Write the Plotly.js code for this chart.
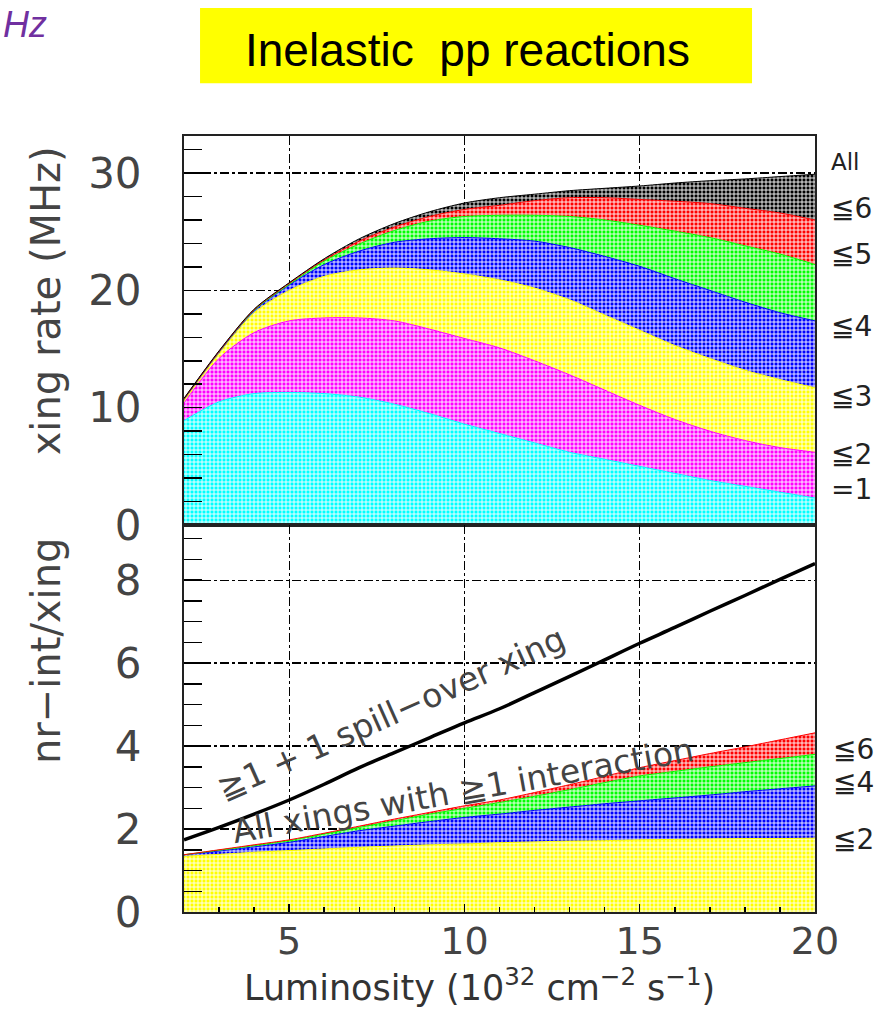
<!DOCTYPE html>
<html><head><meta charset="utf-8">
<script src="https://cdn.plot.ly/plotly-3.0.1.min.js"></script>
<style>html,body{margin:0;padding:0;background:#fff}#chart{width:896px;height:1009px}</style>
</head><body><div id="chart"></div>
<script>
// ---- data ----
const luminosity = [2,3,4,5,6,7,8,9,10,11,12,13,14,15,16,17,18,19,20];
// top panel: crossing rate (MHz), cumulative by number of interactions
const rateEq1 = [8.9,10.5,11.2,11.3,11.2,10.9,10.3,9.5,8.6,7.8,7.0,6.2,5.6,5.0,4.4,3.8,3.3,2.8,2.3];
const rateLe2 = [10.4,14.2,16.4,17.4,17.65,17.65,17.4,16.7,15.9,15.1,14.0,12.8,11.5,10.2,9.0,8.0,7.2,6.6,6.2];
const rateLe3 = [10.6,14.6,18.1,20.0,21.2,21.75,21.9,21.75,21.4,20.9,20.2,19.2,17.9,16.6,15.3,14.2,13.2,12.4,11.7];
const rateLe4 = [10.7,14.75,18.25,20.45,22.2,23.35,24.1,24.4,24.5,24.4,24.2,23.65,22.9,22.05,21.0,20.0,19.0,18.1,17.4];
const rateLe5 = [10.75,14.8,18.3,20.5,22.5,23.95,25.1,25.9,26.3,26.4,26.4,26.3,26.0,25.55,25.05,24.5,23.8,23.1,22.2];
const rateLe6 = [10.75,14.8,18.35,20.6,22.6,24.2,25.4,26.3,26.9,27.25,27.65,27.9,27.9,27.75,27.6,27.4,27.0,26.6,26.0];
const rateAll = [10.8,14.85,18.4,20.65,22.7,24.4,25.7,26.7,27.45,27.9,28.2,28.5,28.7,28.9,29.15,29.35,29.5,29.7,29.9];
// bottom panel: nr-int / xing
const nIntLe2 = [1.34,1.39,1.44,1.48,1.52,1.56,1.59,1.62,1.64,1.67,1.69,1.71,1.72,1.74,1.75,1.76,1.77,1.77,1.78];
const nIntLe4 = [1.38,1.47,1.57,1.68,1.82,1.96,2.07,2.18,2.28,2.36,2.45,2.53,2.61,2.68,2.75,2.82,2.9,2.97,3.04];
const nIntLe6 = [1.38,1.49,1.60,1.72,1.88,2.04,2.2,2.36,2.5,2.64,2.79,2.95,3.12,3.28,3.39,3.5,3.6,3.7,3.8];
const nIntAll = [1.38,1.5,1.62,1.74,1.9,2.07,2.24,2.4,2.56,2.70,2.88,3.07,3.27,3.48,3.65,3.82,3.98,4.15,4.32];
const nIntSpill = [1.74,2.04,2.36,2.70,3.08,3.48,3.84,4.2,4.56,4.9,5.29,5.68,6.08,6.48,6.86,7.25,7.63,8.02,8.4];
// labels
const topLabels = ['All','≦6','≦5','≦4','≦3','≦2','=1'];
const bottomLabels = ['≦6','≦4','≦2'];
const titleText = 'Inelastic  pp reactions';
const yTitleTop = 'xing rate (MHz)';
const yTitleBottom = 'nr−int/xing';
const xTitle = 'Luminosity (10<sup>32</sup> cm<sup>−2</sup> s<sup>−1</sup>)';
const noteSpill = '≧1 + 1 spill−over xing';
const noteAll = 'All xings with ≧1 interaction';

// ---- styling / layout ----
const FONT = 'DejaVu Sans, Liberation Sans, sans-serif';
const TXT = '#444';
function band(y, color, fill, xa, ya) {
  return {
    x: luminosity, y: y, xaxis: xa, yaxis: ya, type: 'scatter', mode: 'lines',
    line: {color: color, width: 1, shape: 'spline', smoothing: 0.8},
    fill: fill, fillcolor: color,
    fillpattern: {shape: '+', size: 4, solidity: 0.4, fgcolor: '#ffffff', bgcolor: color, fgopacity: 1},
    hoverinfo: 'skip'
  };
}
const data = [
  band(rateEq1, '#00ffff', 'tozeroy', 'x', 'y'),
  band(rateLe2, '#ff00ff', 'tonexty', 'x', 'y'),
  band(rateLe3, '#ffff00', 'tonexty', 'x', 'y'),
  band(rateLe4, '#0000ff', 'tonexty', 'x', 'y'),
  band(rateLe5, '#00ff00', 'tonexty', 'x', 'y'),
  band(rateLe6, '#ff0000', 'tonexty', 'x', 'y'),
  band(rateAll, '#000000', 'tonexty', 'x', 'y'),
  band(nIntLe2, '#ffff00', 'tozeroy', 'x2', 'y2'),
  band(nIntLe4, '#0000ff', 'tonexty', 'x2', 'y2'),
  band(nIntLe6, '#00ff00', 'tonexty', 'x2', 'y2'),
  band(nIntAll, '#ff0000', 'tonexty', 'x2', 'y2'),
  {x: luminosity, y: nIntSpill, xaxis: 'x2', yaxis: 'y2', type: 'scatter', mode: 'lines',
   line: {color: '#000', width: 3.5, shape: 'spline'}, hoverinfo: 'skip'}
];

const gridCommon = {showgrid: true, gridcolor: '#000', griddash: 'dashdot', gridwidth: 1.3,
  showline: true, linecolor: '#222', linewidth: 2, mirror: true, zeroline: false};
const tickFont = {family: FONT, size: 42, color: TXT};

const topLabelY = [0.9665, 0.907, 0.847, 0.754, 0.664, 0.589, 0.544];
const bottomLabelY = [0.209, 0.1675, 0.0928];
const annotations = [];
topLabels.forEach((t, i) => annotations.push({xref: 'paper', yref: 'paper', x: 1.022, y: topLabelY[i],
  xanchor: 'left', yanchor: 'middle', text: t, showarrow: false,
  font: {family: FONT, size: t === 'All' ? 23 : 28, color: '#222'}}));
bottomLabels.forEach((t, i) => annotations.push({xref: 'paper', yref: 'paper', x: 1.026, y: bottomLabelY[i],
  xanchor: 'left', yanchor: 'middle', text: t, showarrow: false,
  font: {family: FONT, size: 28, color: '#222'}}));
annotations.push(
  {xref: 'paper', yref: 'paper', x: 0.4485, y: 1.111, text: titleText, showarrow: false,
   xanchor: 'center', yanchor: 'middle', font: {family: 'Liberation Sans, Arial, sans-serif', size: 46, color: '#000'}},
  {xref: 'paper', yref: 'paper', x: -0.2899, y: 1.144, text: '<i>Hz</i>', showarrow: false,
   xanchor: 'left', yanchor: 'middle', font: {family: 'Liberation Sans, Arial, sans-serif', size: 36, color: '#7030a0'}},
  {xref: 'paper', yref: 'paper', x: -0.219, y: 0.788, text: yTitleTop, textangle: -90, showarrow: false,
   xanchor: 'center', yanchor: 'middle', font: {family: FONT, size: 40, color: TXT}},
  {xref: 'paper', yref: 'paper', x: -0.219, y: 0.336, text: yTitleBottom, textangle: -90, showarrow: false,
   xanchor: 'center', yanchor: 'middle', font: {family: FONT, size: 40, color: TXT}},
  {xref: 'paper', yref: 'paper', x: 0.469, y: -0.094, text: xTitle, showarrow: false,
   xanchor: 'center', yanchor: 'middle', font: {family: FONT, size: 35, color: '#333'}},
  {xref: 'x2', yref: 'y2', x: 7.91, y: 4.78, text: noteSpill, textangle: -24.1, showarrow: false,
   xanchor: 'center', yanchor: 'middle', font: {family: FONT, size: 33, color: TXT}},
  {xref: 'x2', yref: 'y2', x: 9.96, y: 2.93, text: noteAll, textangle: -10.2, showarrow: false,
   xanchor: 'center', yanchor: 'middle', font: {family: FONT, size: 33, color: TXT}}
);

const layout = {
  width: 896, height: 1009,
  margin: {l: 184, r: 81, t: 136, b: 97},
  paper_bgcolor: '#fff', plot_bgcolor: '#fff', showlegend: false,
  xaxis: Object.assign({}, gridCommon, {domain: [0, 1], anchor: 'y', range: [2, 20], tick0: 0, dtick: 5,
    showticklabels: false, ticks: ''}),
  xaxis2: Object.assign({}, gridCommon, {domain: [0, 1], anchor: 'y2', range: [2, 20], tick0: 0, dtick: 5,
    ticks: 'inside', ticklen: 8, tickwidth: 1.5, tickcolor: '#000',
    tickfont: {family: FONT, size: 38, color: TXT}, ticklabelstandoff: -6,
    minor: {tick0: 0, dtick: 1, ticks: 'inside', ticklen: 5, tickcolor: '#000', showgrid: false}}),
  yaxis: Object.assign({}, gridCommon, {domain: [0.4987, 1], anchor: 'x', range: [0, 33.16], tick0: 0, dtick: 10,
    ticks: 'inside', ticklen: 18, tickwidth: 1.5, tickcolor: '#000', tickfont: tickFont, ticklabelstandoff: 32,
    minor: {tick0: 0, dtick: 2, ticks: 'inside', ticklen: 18, tickwidth: 1.5, tickcolor: '#000', showgrid: false}}),
  yaxis2: Object.assign({}, gridCommon, {domain: [0, 0.4987], anchor: 'x2', range: [0, 9.33], tick0: 0, dtick: 2,
    ticks: 'inside', ticklen: 18, tickwidth: 1.5, tickcolor: '#000', tickfont: tickFont, ticklabelstandoff: 32,
    minor: {tick0: 0, dtick: 0.5, ticks: 'inside', ticklen: 18, tickwidth: 1.5, tickcolor: '#000', showgrid: false}}),
  shapes: [
    {type: 'rect', xref: 'paper', yref: 'paper', x0: 0.0254, x1: 0.9002, y0: 1.068, y1: 1.165,
     fillcolor: '#ffff00', line: {width: 0}, layer: 'below'}
  ],
  annotations: annotations
};
Plotly.newPlot('chart', data, layout, {staticPlot: true, displayModeBar: false});
</script></body></html>
